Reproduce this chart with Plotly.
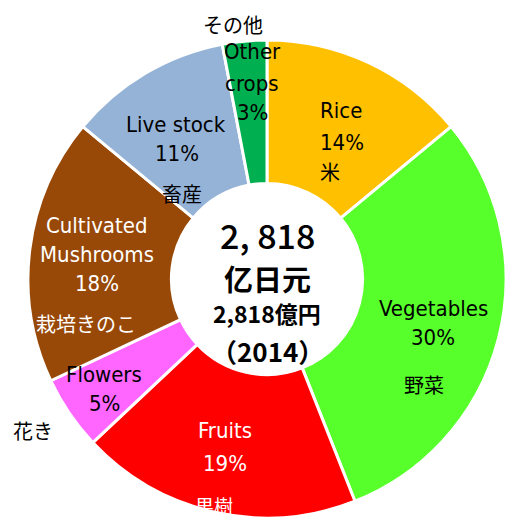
import plotly.graph_objects as go

W, H = 506, 522

categories = ["Rice", "Vegetables", "Fruits", "Flowers", "Cultivated Mushrooms", "Live stock", "Other crops"]
values = [14, 30, 19, 5, 18, 11, 3]
jp_labels = ["米", "野菜", "果樹", "花き", "栽培きのこ", "畜産", "その他"]
colors = ["#FFC000", "#57FF2B", "#FF0000", "#FF66FF", "#984807", "#95B3D7", "#00B050"]
center_lines = ["2, 818", "亿日元", "2,818億円", "（2014）"]

fig = go.Figure(go.Pie(
    labels=categories, values=values, sort=False, direction="clockwise", rotation=0,
    hole=0.4, textinfo="none", hoverinfo="label+percent",
    marker=dict(colors=colors, line=dict(color="white", width=3)),
    domain=dict(x=[28 / W, 1], y=[4 / H, 482 / H]),
    showlegend=False,
))

EN = "Liberation Sans Narrow, DejaVu Sans Condensed, Liberation Sans, sans-serif"
JP = "Noto Sans CJK JP, sans-serif"

def pct(i):
    return f"{values[i]}%"

# (text, x px, y px, size, color, font, weight)
lines = [
    ("Rice", 341, 110, 22, "black", EN, 400), (pct(0), 342, 142, 22, "black", EN, 400), (jp_labels[0], 330, 171, 20, "black", JP, 400),
    ("Vegetables", 433, 308, 22, "black", EN, 400), (pct(1), 433, 337, 22, "black", EN, 400), (jp_labels[1], 424, 384, 20, "black", JP, 400),
    ("Fruits", 225, 430, 22, "white", EN, 400), (pct(2), 225, 463, 22, "white", EN, 400), (jp_labels[2], 214, 505, 19, "white", JP, 400),
    ("Flowers", 104, 374, 22, "black", EN, 400), (pct(3), 104, 403, 22, "black", EN, 400), (jp_labels[3], 33, 430, 20, "black", JP, 400),
    ("Cultivated", 96, 225, 22, "white", EN, 400), ("Mushrooms", 97, 254, 22, "white", EN, 400), (pct(4), 97, 283, 22, "white", EN, 400),
    (jp_labels[4], 86, 323, 20, "white", JP, 400),
    ("Live stock", 176, 124, 22, "black", EN, 400), (pct(5), 177, 153, 22, "black", EN, 400), (jp_labels[5], 182, 193, 20, "black", JP, 400),
    ("Other", 252, 52, 22, "black", EN, 400), ("crops", 252, 83, 22, "black", EN, 400), (pct(6), 252, 112, 22, "black", EN, 400),
    (jp_labels[6], 233, 25, 20, "black", JP, 400),
    (center_lines[0], 267, 234, 34, "black", JP, 500),
    (center_lines[1], 267, 278, 29, "black", JP, 700),
    (center_lines[2], 267, 313, 23, "black", JP, 700),
    (center_lines[3], 267, 350, 26, "black", JP, 700),
]

for text, x, y, size, color, family, weight in lines:
    fig.add_annotation(text=text, x=x / W, y=1 - y / H, xref="paper", yref="paper",
                       showarrow=False, xanchor="center", yanchor="middle",
                       font=dict(size=size, color=color, family=family, weight=weight))

fig.update_layout(width=W, height=H, margin=dict(l=0, r=0, t=0, b=0),
                  paper_bgcolor="white", plot_bgcolor="white")
fig.write_html("out.html")
